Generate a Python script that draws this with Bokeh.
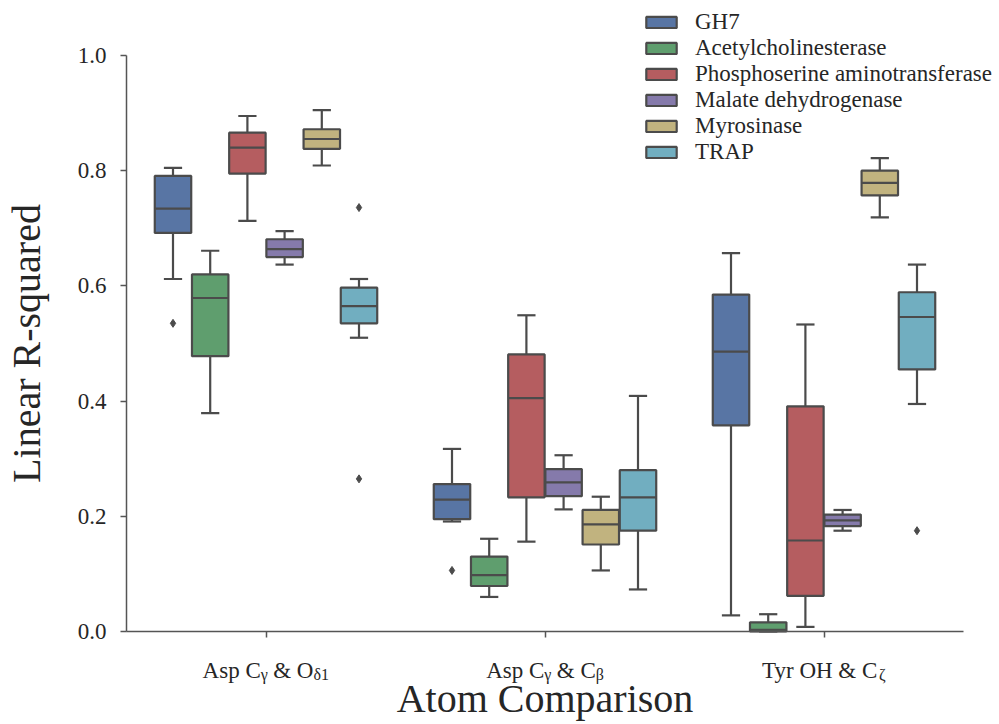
from bokeh.plotting import figure
from bokeh.models import (Range1d, FixedTicker, PrintfTickFormatter, Legend,
                          LegendItem, Label, ColumnDataSource)
from bokeh.embed import file_html
from bokeh.resources import INLINE

# ---------------- data ----------------
categories = ["Asp Cγ & Oδ1", "Asp Cγ & Cβ", "Tyr OH & Cζ"]
hues = ["GH7", "Acetylcholinesterase", "Phosphoserine aminotransferase",
        "Malate dehydrogenase", "Myrosinase", "TRAP"]
colors = ["#5875a4", "#5f9e6e", "#b55d60", "#857aab", "#c1b37f", "#71aec0"]

# [category][hue]
whisker_low = [[0.612, 0.379, 0.713, 0.637, 0.809, 0.510],
               [0.191, 0.060, 0.156, 0.212, 0.106, 0.073],
               [0.028, 0.000, 0.008, 0.175, 0.719, 0.395]]
q1 = [[0.692, 0.478, 0.795, 0.650, 0.838, 0.535],
      [0.195, 0.079, 0.233, 0.235, 0.151, 0.175],
      [0.358, 0.000, 0.062, 0.183, 0.757, 0.455]]
median = [[0.734, 0.579, 0.840, 0.664, 0.855, 0.565],
          [0.229, 0.098, 0.405, 0.259, 0.186, 0.233],
          [0.486, 0.003, 0.158, 0.193, 0.779, 0.546]]
q3 = [[0.791, 0.620, 0.866, 0.681, 0.872, 0.597],
      [0.256, 0.130, 0.481, 0.282, 0.211, 0.280],
      [0.585, 0.016, 0.391, 0.203, 0.800, 0.589]]
whisker_high = [[0.805, 0.661, 0.895, 0.695, 0.905, 0.612],
                [0.317, 0.161, 0.549, 0.306, 0.234, 0.409],
                [0.657, 0.030, 0.533, 0.211, 0.822, 0.637]]

outlier_cat = [0, 0, 0, 1, 2]
outlier_hue = [0, 5, 5, 0, 5]
outlier_val = [0.535, 0.736, 0.265, 0.106, 0.175]

y_ticks = [0.0, 0.2, 0.4, 0.6, 0.8, 1.0]

# tick label pieces (text, is_subscript)
tick_parts = [[("Asp C", 0), ("γ", 1), (" & O", 0), ("δ1", 1)],
              [("Asp C", 0), ("γ", 1), (" & C", 0), ("β", 1)],
              [("Tyr OH & C", 0), ("ζ", 1)]]

# ---------------- layout ----------------
W_PX, H_PX = 999, 724
AX_LEFT, AX_RIGHT, AX_TOP, AX_BOTTOM = 126, 963, 55, 631   # axes box in pixels
ncat = len(categories)
px_per_x = (AX_RIGHT - AX_LEFT) / ncat
px_per_y = (AX_BOTTOM - AX_TOP) / 1.0
x_range = Range1d(-AX_LEFT / px_per_x, ncat + (W_PX - AX_RIGHT) / px_per_x)
y_range = Range1d(-(H_PX - AX_BOTTOM) / px_per_y, 1.0 + AX_TOP / px_per_y)

FONT = "Liberation Serif"
TXT = "#262626"
LINE = "#4b4b4b"
n_h = len(hues)
group_w = 0.8
box_w = group_w / n_h * 0.98

p = figure(output_backend="svg", toolbar_location=None,
           x_range=x_range, y_range=y_range,
           min_border=0, min_border_left=0, min_border_right=0,
           min_border_top=0, min_border_bottom=0)
p.frame_width = W_PX
p.frame_height = H_PX
p.outline_line_color = None
p.grid.visible = False
p.background_fill_color = "white"
p.border_fill_color = "white"


def xpos(c, h):
    return c + 0.5 - group_w / 2 + group_w / n_h * (h + 0.5)


legend_items = []
for h in range(n_h):
    xs = [xpos(c, h) for c in range(ncat)]
    src = ColumnDataSource(dict(
        x=xs,
        left=[x - box_w / 2 for x in xs],
        right=[x + box_w / 2 for x in xs],
        capl=[x - box_w / 4 for x in xs],
        capr=[x + box_w / 4 for x in xs],
        lo=[whisker_low[c][h] for c in range(ncat)],
        q1=[q1[c][h] for c in range(ncat)],
        med=[median[c][h] for c in range(ncat)],
        q3=[q3[c][h] for c in range(ncat)],
        hi=[whisker_high[c][h] for c in range(ncat)],
    ))
    p.segment(x0="x", x1="x", y0="q3", y1="hi", source=src, line_color=LINE, line_width=2.2)
    p.segment(x0="x", x1="x", y0="q1", y1="lo", source=src, line_color=LINE, line_width=2.2)
    p.segment(x0="capl", x1="capr", y0="hi", y1="hi", source=src, line_color=LINE, line_width=2.2)
    p.segment(x0="capl", x1="capr", y0="lo", y1="lo", source=src, line_color=LINE, line_width=2.2)
    r = p.quad(left="left", right="right", bottom="q1", top="q3", source=src,
               fill_color=colors[h], line_color=LINE, line_width=2.2)
    p.segment(x0="left", x1="right", y0="med", y1="med", source=src, line_color=LINE, line_width=2.2)
    legend_items.append(LegendItem(label=hues[h], renderers=[r]))

p.scatter(x=[xpos(c, h) for c, h in zip(outlier_cat, outlier_hue)], y=outlier_val,
          marker="diamond", size=8, fill_color=LINE, line_color=LINE)

# axes (drawn at fixed data locations, spanning only the data box)
for ax in (p.xaxis[0], p.yaxis[0]):
    ax.fixed_location = 0
    ax.axis_line_color = "#555555"
    ax.axis_line_width = 1.5
    ax.major_tick_line_color = "#555555"
    ax.major_tick_line_width = 1.5
    ax.major_tick_out = 6
    ax.major_tick_in = 0
    ax.minor_tick_line_color = None
    ax.major_label_text_font = FONT
    ax.major_label_text_font_size = "23px"
    ax.major_label_text_color = TXT
    ax.axis_label_text_font = FONT
    ax.axis_label_text_font_size = "40px"
    ax.axis_label_text_font_style = "normal"
    ax.axis_label_text_color = TXT

p.yaxis.bounds = (0, 1.0)
p.yaxis.ticker = FixedTicker(ticks=y_ticks)
p.yaxis.formatter = PrintfTickFormatter(format="%.1f")
p.yaxis.major_label_standoff = 14
p.yaxis.axis_label = "Linear R-squared"
p.yaxis.axis_label_standoff = 26

cat_ticks = [c + 0.5 for c in range(ncat)]
p.xaxis.bounds = (0, ncat)
p.xaxis.ticker = FixedTicker(ticks=cat_ticks)
p.xaxis.major_label_overrides = {t: "" for t in cat_ticks}
p.xaxis.axis_label = "Atom Comparison"
p.xaxis.axis_label_standoff = 38

# composed category labels with subscripts (spaces handled as offsets)
W = {"A": .722, "s": .389, "p": .5, " ": .25, "C": .667, "&": .778, "O": .722,
     "T": .611, "y": .5, "r": .333, "H": .722, "1": .5, "γ": .42, "δ": .5,
     "β": .5, "ζ": .44}
MAIN, SUB = 23, 16


def tw(t, size):
    return sum(W.get(ch, .5) for ch in t) * size


for c, parts in enumerate(tick_parts):
    sizes = [SUB if s else MAIN for _, s in parts]
    total = sum(tw(t, sz) for (t, _), sz in zip(parts, sizes))
    off = -total / 2
    for (t, s), sz in zip(parts, sizes):
        lead = len(t) - len(t.lstrip(" "))
        core = t.strip(" ")
        start = off + tw(" " * lead, sz)
        p.add_layout(Label(x=c + 0.5, y=0, x_units="data", y_units="data",
                           x_offset=start, y_offset=-39 - (4 if s else 0),
                           text=core, text_font=FONT,
                           text_font_size=f"{sz}px",
                           text_color=TXT, text_align="left",
                           text_baseline="alphabetic"))
        off += tw(t, sz)

legend = Legend(items=legend_items, location=(642, H_PX - 9 - 156))
legend.label_text_font = FONT
legend.label_text_font_size = "23px"
legend.label_text_color = TXT
legend.glyph_width = 38
legend.glyph_height = 14
legend.label_height = 26
legend.spacing = 0
legend.padding = 0
legend.margin = 0
legend.label_standoff = 15
legend.border_line_alpha = 0
legend.background_fill_alpha = 0
p.add_layout(legend)

open("out.html", "w").write(file_html(p, INLINE))
